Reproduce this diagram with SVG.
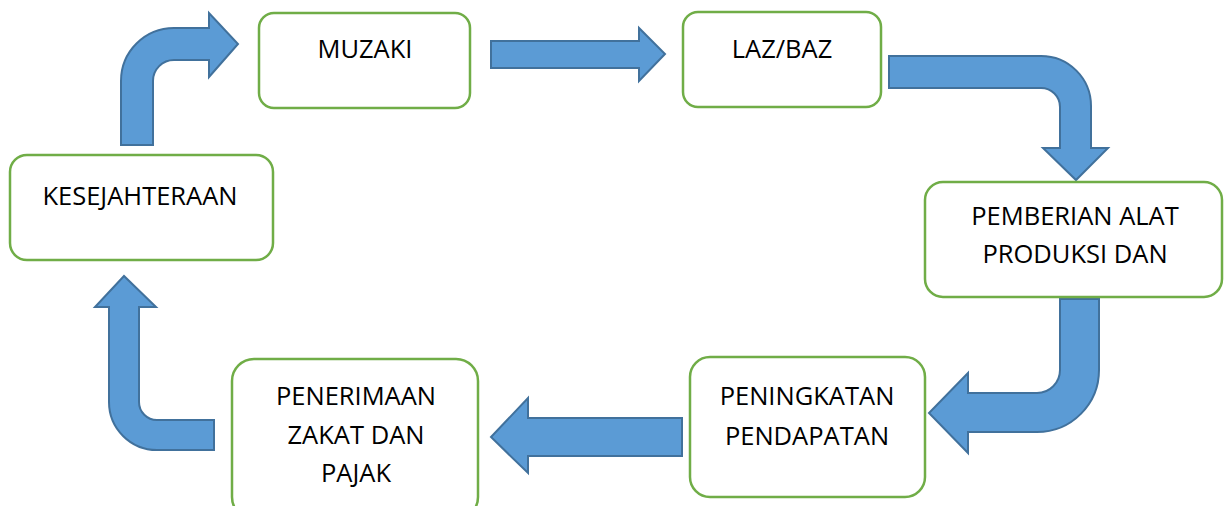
<svg xmlns="http://www.w3.org/2000/svg" width="1225" height="506" viewBox="0 0 1225 506">
<style>
.box{fill:#ffffff;stroke:#70AD47;stroke-width:2.5}
.arr{fill:#5B9BD5;stroke:#41719C;stroke-width:2;stroke-linejoin:miter}
.t{font-family:"Open Sans","Liberation Sans",sans-serif;font-size:25.5px;fill:#000;text-anchor:middle}
</style>
<rect width="1225" height="506" fill="#ffffff"/>
<g id="connectors">
<path class="arr" d="M121,145 L121,81 A53,53 0 0 1 174,28 L209,28 L209,13 L238,44 L209,77 L209,60 L174,60 A21,21 0 0 0 153,81 L153,145 Z"/>
<path class="arr" d="M491,41 L639,41 L639,28 L665,54 L639,81 L639,68 L491,68 Z"/>
<path class="arr" d="M889,56 L1041,56 A50,50 0 0 1 1091,106 L1091,148 L1108,148 L1076,180 L1043,148 L1060,148 L1060,107 A19,19 0 0 0 1041,88 L889,88 Z"/>
<path class="arr" d="M1060,299 L1099,299 L1099,370 A62,62 0 0 1 1037,432 L968,432 L968,453 L929,413 L968,373 L968,393 L1037,393 A23,23 0 0 0 1060,370 Z"/>
<path class="arr" d="M682,418 L682,456 L528,456 L528,473 L491,437 L528,398 L528,418 Z"/>
<path class="arr" d="M214,420 L214,450 L157,450 A48,48 0 0 1 109,402 L109,307 L95,307 L124,276 L156,307 L139,307 L139,402 A18,18 0 0 0 157,420 Z"/>
</g>
<g id="muzaki">
<rect class="box" x="259" y="13" width="211" height="95" rx="15"/>
<text class="t" x="365" y="58">MUZAKI</text>
</g>
<g id="lazbaz">
<rect class="box" x="683" y="12" width="198" height="95" rx="15"/>
<text class="t" x="782" y="58">LAZ/BAZ</text>
</g>
<g id="pemberian">
<rect class="box" x="925" y="182" width="297" height="115" rx="18"/>
<text class="t" x="1075" y="225">PEMBERIAN ALAT</text>
<text class="t" x="1075" y="263">PRODUKSI DAN</text>
</g>
<g id="peningkatan">
<rect class="box" x="690" y="357" width="235" height="140" rx="20"/>
<text class="t" x="807" y="405">PENINGKATAN</text>
<text class="t" x="807" y="445">PENDAPATAN</text>
</g>
<g id="penerimaan">
<rect class="box" x="232" y="359" width="246" height="160" rx="22"/>
<text class="t" x="356" y="405">PENERIMAAN</text>
<text class="t" x="356" y="444">ZAKAT DAN</text>
<text class="t" x="356" y="482">PAJAK</text>
</g>
<g id="kesejahteraan">
<rect class="box" x="10" y="155" width="263" height="105" rx="17"/>
<text class="t" x="140" y="205">KESEJAHTERAAN</text>
</g>
</svg>
